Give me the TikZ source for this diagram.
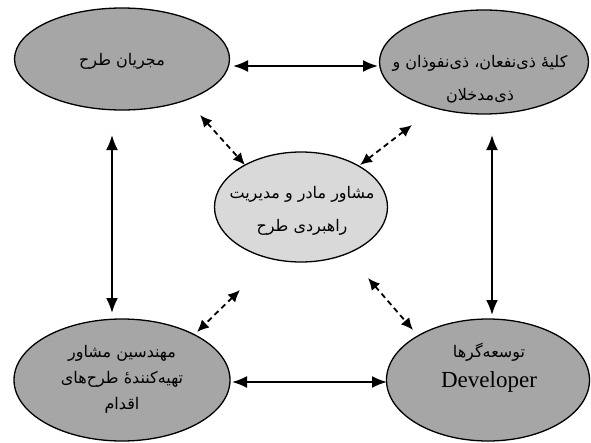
\documentclass[tikz,border=0pt]{standalone}
\usepackage{fontspec}
\setmainfont{Liberation Serif}
\newfontfamily\fa[Script=Arabic]{DejaVu Sans}
\TeXXeTstate=1
\usetikzlibrary{shapes.geometric,arrows.meta}
\definecolor{outerfill}{RGB}{166,166,166}
\definecolor{innerfill}{RGB}{217,217,217}
\begin{document}
\begin{tikzpicture}[x=1pt,y=-1pt,
  ell/.style={draw=black, line width=1.3pt, ellipse, inner sep=0pt, fill=outerfill},
  txt/.style={font=\fa\fontsize{16}{33}\selectfont, align=center, inner sep=0pt},
  solidarr/.style={line width=1.9pt, {Latex[length=15pt,width=12pt]}-{Latex[length=15pt,width=12pt]}},
  dasharr/.style={line width=1.8pt, dash pattern=on 5.5pt off 4pt, {Latex[length=12pt,width=11pt]}-{Latex[length=12pt,width=11pt]}}]
\useasboundingbox[fill=white] (0,0) rectangle (591,442);

\node[ell, minimum width=215pt, minimum height=102pt] (tl) at (122,59) {};
\node[ell, minimum width=209pt, minimum height=104pt] (tr) at (484,62) {};
\node[ell, fill=innerfill, minimum width=173pt, minimum height=110pt] (c) at (301,207) {};
\node[ell, minimum width=216pt, minimum height=122pt] (bl) at (122,380) {};
\node[ell, minimum width=203pt, minimum height=122pt] (br) at (488,380) {};

\node[txt] (tlt) at (122,61) {\beginR مجریان طرح\endR};
\node[txt] (trt) at (480,79) {\beginR کلیه^^^^0654 ذی^^^^200cنفعان، ذی^^^^200cنفوذان و\endR\\\beginR ذی^^^^200cمدخلان\endR};
\node[txt] (ct) at (302,211) {\beginR مشاور مادر و مدیریت\endR\\\beginR راهبردی طرح\endR};
\node[txt, font=\fa\fontsize{16}{26}\selectfont] (blt) at (122,379) {\beginR مهندسین مشاور\endR\\\beginR تهیه^^^^200cکننده^^^^0654 طرح^^^^200cهای\endR\\\beginR اقدام\endR};
\node[txt] (brt1) at (489,352) {\beginR توسعه^^^^200cگرها\endR};
\node[inner sep=0pt, font=\fontsize{23}{28}\selectfont] (brt2) at (489,382) {Developer};

\coordinate (h1a) at (233,66);
\coordinate (h1b) at (378,66);
\coordinate (h2a) at (232,382);
\coordinate (h2b) at (387,382);
\coordinate (v1a) at (112,135);
\coordinate (v1b) at (112,313);
\coordinate (v2a) at (492,135);
\coordinate (v2b) at (492,315);
\coordinate (d1a) at (200,115);
\coordinate (d1b) at (245,165);
\coordinate (d2a) at (412,125);
\coordinate (d2b) at (360,165);
\coordinate (d3a) at (240,290);
\coordinate (d3b) at (197,332);
\coordinate (d4a) at (368,278);
\coordinate (d4b) at (413,330);

\draw[solidarr] (h1a) -- (h1b);
\draw[solidarr] (h2a) -- (h2b);
\draw[solidarr] (v1a) -- (v1b);
\draw[solidarr] (v2a) -- (v2b);
\draw[dasharr] (d1a) -- (d1b);
\draw[dasharr] (d2a) -- (d2b);
\draw[dasharr] (d3a) -- (d3b);
\draw[dasharr] (d4a) -- (d4b);
\end{tikzpicture}
\end{document}
